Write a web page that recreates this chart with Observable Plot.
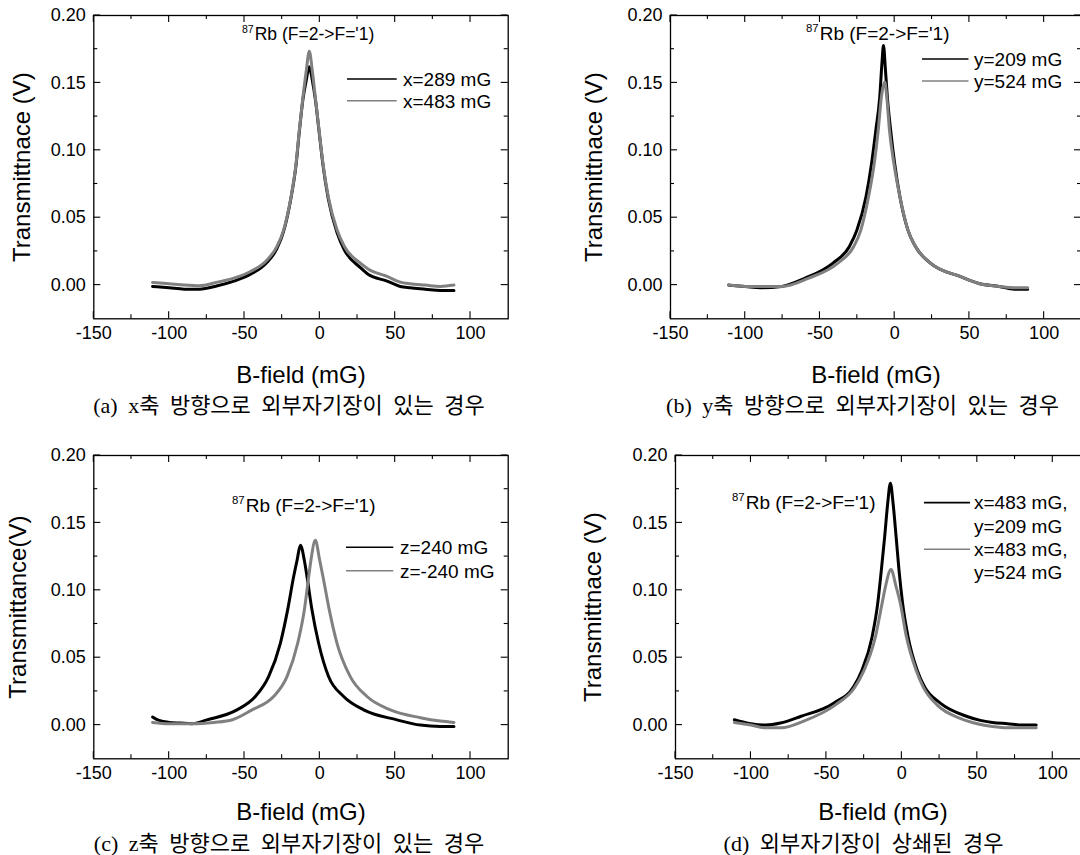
<!DOCTYPE html>
<html><head><meta charset="utf-8">
<script src="https://cdn.jsdelivr.net/npm/d3@7"></script>
<script src="https://cdn.jsdelivr.net/npm/@observablehq/plot@0.6"></script>
<style>
html,body{margin:0;padding:0;background:#fff;}
#wrap{position:relative;width:1080px;height:855px;overflow:hidden;background:#fff;}
.panel{position:absolute;}
.panel svg{max-width:none !important;}
.cap{position:absolute;font-family:"Liberation Serif","Noto Sans CJK KR",serif;font-size:22px;white-space:nowrap;transform:translate(-50%,-50%);color:#000;word-spacing:5px;line-height:1;}
</style></head><body><div id="wrap"></div>
<script>
// ---- ticks ----
const xMajorTicks = [-150, -100, -50, 0, 50, 100];
const xMinorTicks = [-125, -75, -25, 25, 75];
const yMajorTicks = [0, 0.05, 0.10, 0.15, 0.20];
const yMinorTicks = [0.025, 0.075, 0.125, 0.175];

// ---- (a) x-axis field ----
const aBlackX = [-111,-100,-90,-80,-68,-57,-46,-35,-28.5,-24,-19.1,-15.8,-13.6,-11.2,-9,-7,-5,-3,-0.5,2.1,5.6,11.4,16.3,26.9,32,44.6,53.4,60,70,80,89];
const aBlackY = [-0.001,-0.002,-0.003,-0.003,-0.0005,0.003,0.008,0.017,0.027,0.040,0.065,0.089,0.114,0.138,0.152,0.162,0.152,0.138,0.114,0.089,0.064,0.039,0.026,0.013,0.008,0.003,-0.001,-0.002,-0.003,-0.004,-0.004];
const aGrayX = [-111,-100,-90,-80,-68,-57,-46,-35,-28.5,-24,-19.1,-15.8,-13.6,-11.2,-9,-7,-5,-3,-0.5,2.1,5.6,11.4,16.3,26.9,32,44.6,53.4,60,70,80,89];
const aGrayY = [0.002,0.001,0.000,-0.0005,0.0022,0.0052,0.0101,0.0187,0.0286,0.041,0.0655,0.090,0.115,0.1395,0.159,0.1735,0.159,0.1395,0.115,0.090,0.0655,0.041,0.0286,0.0163,0.012,0.0064,0.0022,0.001,0.000,-0.001,0.000];

// ---- (b) y-axis field ----
const bBlackX = [-111,-100,-90,-75.6,-60.2,-41.3,-30.3,-25.2,-19.2,-15.5,-12.6,-10,-8.5,-7.5,-6.2,-4.9,-2.7,0,3.5,8.8,13.9,23.9,43.8,57,70,80,89];
const bBlackY = [0.000,-0.001,-0.002,-0.001,0.005,0.0163,0.0286,0.041,0.0655,0.090,0.115,0.1395,0.165,0.1777,0.160,0.1395,0.115,0.090,0.0655,0.041,0.0286,0.0163,0.0064,0.001,-0.001,-0.003,-0.003];
const bGrayX = [-111,-100,-90,-75.6,-57.9,-38,-27.4,-22.6,-17.5,-13.7,-11,-8.9,-6.6,-5.3,-3.5,-0.5,3.5,8.8,13.9,23.9,43.8,57,70,80,89];
const bGrayY = [0.000,-0.001,-0.001,-0.001,0.005,0.0163,0.0286,0.041,0.0655,0.090,0.115,0.1395,0.1506,0.1395,0.115,0.090,0.0655,0.041,0.0286,0.0163,0.0064,0.001,-0.001,-0.002,-0.002];

// ---- (c) z-axis field ----
const cBlackX = [-111,-108,-100,-92.6,-85,-74.9,-55,-42.8,-34,-26.2,-21.4,-17.4,-15.1,-12.9,-10.3,-8.5,-5.2,-0.8,5.8,15.8,29.1,51.2,66.7,80,89];
const cBlackY = [0.006,0.004,0.002,0.0015,0.001,0.0039,0.0113,0.0212,0.036,0.0607,0.0853,0.110,0.1223,0.1334,0.1223,0.110,0.0853,0.0607,0.036,0.0212,0.0113,0.0039,0.000,-0.001,-0.001];
const cGrayX = [-111,-100,-85,-70.3,-58,-45,-30.7,-21.8,-14.7,-10.3,-7.4,-5.9,-3,-0.1,2.1,6.3,11.4,20.2,31.3,46.8,66.7,80,89];
const cGrayY = [0.002,0.001,0.001,0.002,0.004,0.0113,0.0212,0.036,0.0607,0.0853,0.110,0.1223,0.1371,0.1223,0.110,0.0853,0.0607,0.036,0.0212,0.0113,0.0055,0.003,0.002];

// ---- (d) compensated ----
const dBlackX = [-111,-100,-90,-80.5,-67.2,-45.2,-31.9,-26.4,-19.7,-16,-13.6,-11.4,-9.4,-7.6,-5.8,-3.8,-1.9,0.5,4.1,10.1,14.9,25.5,43.2,52,60,70,80,89];
const dBlackY = [0.004,0.001,0.000,0.0015,0.0064,0.0163,0.0286,0.0409,0.0656,0.0903,0.1149,0.1396,0.1643,0.1795,0.1643,0.1396,0.1149,0.0903,0.0656,0.0409,0.0286,0.0163,0.0064,0.0035,0.002,0.001,0.000,0.000];
const dGrayX = [-111,-100,-90,-80,-65,-44,-31.5,-25.3,-17.5,-13.1,-10.9,-7.2,-3.8,-1.0,3.0,9.4,14,23.3,38.7,50,60,70,80,89];
const dGrayY = [0.002,0.000,-0.002,-0.002,0.003,0.015,0.0275,0.040,0.0656,0.0903,0.1026,0.1154,0.1026,0.0903,0.0656,0.0409,0.0286,0.015,0.005,0.001,-0.001,-0.002,-0.002,-0.002];

// ---- texts ----
const xTitle = "B-field (mG)";
const yTitles = ["Transmittnace (V)", "Transmittnace (V)", "Transmittance(V)", "Transmittnace (V)"];
const annotSup = "87";
const annotText = "Rb (F=2->F='1)";
const legendA = ["x=289 mG", "x=483 mG"];
const legendB = ["y=209 mG", "y=524 mG"];
const legendC = ["z=240 mG", "z=-240 mG"];
const legendD = ["x=483 mG,", "y=209 mG", "x=483 mG,", "y=524 mG"];
const captions = ["(a) x축 방향으로 외부자기장이 있는 경우", "(b) y축 방향으로 외부자기장이 있는 경우", "(c) z축 방향으로 외부자기장이 있는 경우", "(d) 외부자기장이 상쇄된 경우"];

const BLACK = "#000000", GRAY = "#808080";
const FONT = "'Liberation Sans', Arial, Helvetica, sans-serif";

// inward ticks on all four sides, placed with the plot's own scales
function ticksMark() {
  return (index, scales, values, dims) => {
    const g = d3.create("svg:g").attr("stroke", "#000").attr("stroke-width", 1.1).attr("fill", "none");
    const l = dims.marginLeft, t = dims.marginTop, r = dims.width - dims.marginRight, b = dims.height - dims.marginBottom;
    const xt = (vals, len) => vals.forEach(v => {
      const X = scales.x(v);
      g.append("line").attr("x1", X).attr("x2", X).attr("y1", b).attr("y2", b - len);
      g.append("line").attr("x1", X).attr("x2", X).attr("y1", t).attr("y2", t + len);
    });
    const yt = (vals, len) => vals.forEach(v => {
      const Y = scales.y(v);
      g.append("line").attr("y1", Y).attr("y2", Y).attr("x1", l).attr("x2", l + len);
      g.append("line").attr("y1", Y).attr("y2", Y).attr("x1", r).attr("x2", r - len);
    });
    xt(xMajorTicks, 7); xt(xMinorTicks, 4);
    yt(yMajorTicks, 7); yt(yMinorTicks, 4);
    return g.node();
  };
}

function overlay(ox, oy, annot, legend) {
  return () => {
    const g = d3.create("svg:g").attr("font-family", FONT).attr("fill", "#000").attr("text-anchor", "start");
    const t = g.append("text").attr("x", annot.x - ox).attr("y", annot.y - oy).attr("font-size", annot.size).attr("text-anchor", "start");
    t.append("tspan").attr("font-size", annot.size * 0.6).attr("dy", -annot.size * 0.4).text(annotSup);
    t.append("tspan").attr("dy", annot.size * 0.4).attr("dx", 1).text(annotText);
    legend.rows.forEach(r => {
      if (r.color) {
        g.append("line").attr("x1", legend.x1 - ox).attr("x2", legend.x2 - ox)
          .attr("y1", r.y - oy).attr("y2", r.y - oy).attr("stroke", r.color).attr("stroke-width", 1.6);
      }
      g.append("text").attr("x", legend.tx - ox).attr("y", r.y - oy + 6.8).attr("font-size", 19).attr("text-anchor", "start").text(r.label);
    });
    return g.node();
  };
}

function panel(cfg) {
  const marks = [];
  cfg.series.forEach(s => marks.push(Plot.line(s.x, {x: s.x, y: s.y, stroke: s.color, strokeWidth: 3, curve: "monotone-x", strokeLinejoin: "round"})));
  marks.push(Plot.frame({stroke: "#000", strokeWidth: 1.3}));
  marks.push(ticksMark());
  marks.push(Plot.axisX({anchor: "bottom", ticks: xMajorTicks, tickSize: 0, tickPadding: 7, tickFormat: d => String(d), fontSize: 18, label: null}));
  marks.push(Plot.axisY({anchor: "left", ticks: yMajorTicks, tickSize: 0, tickPadding: 8, tickFormat: d3.format(".2f"), fontSize: 18, label: null}));
  marks.push(Plot.text([xTitle], {text: d => d, frameAnchor: "bottom", dy: cfg.xTitleDy, fontSize: 24, lineAnchor: "middle", textAnchor: "middle"}));
  marks.push(Plot.text([cfg.yTitle], {text: d => d, frameAnchor: "left", dx: -cfg.yTitleDx, rotate: -90, fontSize: 24, lineAnchor: "middle", textAnchor: "middle"}));
  marks.push(overlay(cfg.ox, cfg.oy, cfg.annot, cfg.legend));
  const svg = Plot.plot({
    width: cfg.width, height: cfg.height,
    marginLeft: cfg.mL, marginRight: cfg.mR, marginTop: cfg.mT, marginBottom: cfg.mB,
    x: {domain: [-150, 125]},
    y: {domain: [-0.025, 0.2]},
    style: {fontFamily: FONT, fontSize: "18px", color: "#000", background: "transparent", overflow: "visible", maxWidth: "none"},
    marks
  });
  svg.style.maxWidth = "none";
  svg.style.width = cfg.width + "px";
  svg.style.height = cfg.height + "px";
  const div = document.createElement("div");
  div.className = "panel";
  div.style.left = cfg.ox + "px";
  div.style.top = cfg.oy + "px";
  div.style.width = cfg.width + "px";
  div.style.height = cfg.height + "px";
  div.appendChild(svg);
  document.getElementById("wrap").appendChild(div);
}

const panels = [
  {ox: 0, oy: 0, width: 540, height: 385, mL: 93.3, mR: 32.3, mT: 15, mB: 66.7, yTitle: yTitles[0], yTitleDx: 71.7, xTitleDy: 57,
   series: [{x: aBlackX, y: aBlackY, color: BLACK}, {x: aGrayX, y: aGrayY, color: GRAY}],
   annot: {x: 242, y: 40, size: 17.5},
   legend: {x1: 347, x2: 396.7, tx: 403, rows: [{y: 79, label: legendA[0], color: BLACK}, {y: 100.7, label: legendA[1], color: GRAY}]}},
  {ox: 540, oy: 0, width: 560, height: 385, mL: 130, mR: 19, mT: 15, mB: 66.7, yTitle: yTitles[1], yTitleDx: 76.3, xTitleDy: 57,
   series: [{x: bBlackX, y: bBlackY, color: BLACK}, {x: bGrayX, y: bGrayY, color: GRAY}],
   annot: {x: 806, y: 40, size: 19},
   legend: {x1: 922, x2: 968.5, tx: 974, rows: [{y: 59, label: legendB[0], color: BLACK}, {y: 81, label: legendB[1], color: GRAY}]}},
  {ox: 0, oy: 440, width: 540, height: 385, mL: 93.3, mR: 32.3, mT: 15, mB: 66.7, yTitle: yTitles[2], yTitleDx: 75, xTitleDy: 54,
   series: [{x: cBlackX, y: cBlackY, color: BLACK}, {x: cGrayX, y: cGrayY, color: GRAY}],
   annot: {x: 232, y: 512, size: 19},
   legend: {x1: 346, x2: 393.3, tx: 400, rows: [{y: 547.3, label: legendC[0], color: BLACK}, {y: 570.7, label: legendC[1], color: GRAY}]}},
  {ox: 540, oy: 440, width: 570, height: 385, mL: 135, mR: 20, mT: 15, mB: 66.7, yTitle: yTitles[3], yTitleDx: 82, xTitleDy: 54,
   series: [{x: dBlackX, y: dBlackY, color: BLACK}, {x: dGrayX, y: dGrayY, color: GRAY}],
   annot: {x: 732, y: 508.5, size: 19},
   legend: {x1: 924, x2: 970, tx: 974, rows: [{y: 502.6, label: legendD[0], color: BLACK}, {y: 526.6, label: legendD[1]}, {y: 549.3, label: legendD[2], color: GRAY}, {y: 571.7, label: legendD[3]}]}}
];
panels.forEach(panel);

const capPos = [[289, 406], [862.5, 406], [289, 844], [863.5, 844]];
captions.forEach((c, i) => {
  const d = document.createElement("div");
  d.className = "cap";
  d.style.left = capPos[i][0] + "px";
  d.style.top = capPos[i][1] + "px";
  d.textContent = c;
  document.getElementById("wrap").appendChild(d);
});
</script>
</body></html>
